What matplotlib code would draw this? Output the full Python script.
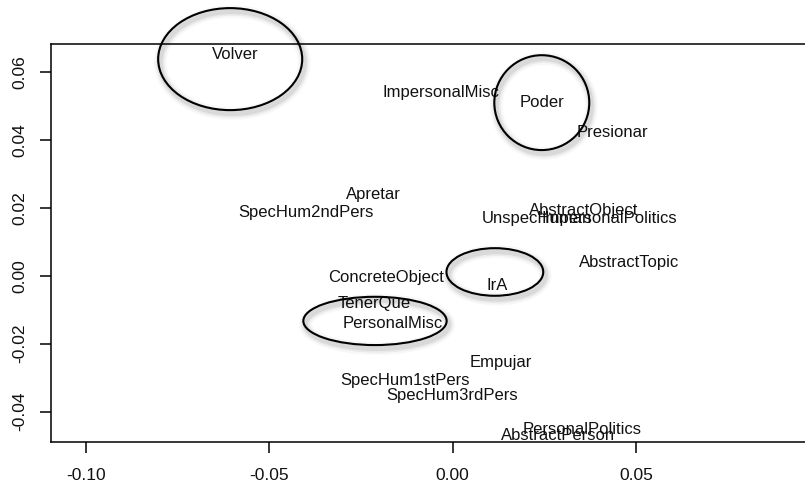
import matplotlib
matplotlib.use("Agg")
import matplotlib.pyplot as plt
from matplotlib.patches import Ellipse
import matplotlib.patheffects as pe

plt.rcParams['font.family'] = ['Liberation Sans', 'DejaVu Sans']

labels = ["Volver", "ImpersonalMisc", "Poder", "Presionar", "Apretar", "SpecHum2ndPers",
          "AbstractObject", "UnspecHuman", "ImpersonalPolitics", "AbstractTopic",
          "ConcreteObject", "IrA", "TenerQue", "PersonalMisc", "Empujar",
          "SpecHum1stPers", "SpecHum3rdPers", "PersonalPolitics", "AbstractPerson"]
xs = [-0.0594, -0.0032, 0.0243, 0.0437, -0.0215, -0.0400,
      0.0356, 0.0230, 0.0427, 0.0481,
      -0.0182, 0.0120, -0.0214, -0.0163, 0.0131,
      -0.0129, -0.0003, 0.0353, 0.0288]
ys = [0.0652, 0.0540, 0.0509, 0.0420, 0.0240, 0.0185,
      0.0193, 0.0168, 0.0168, 0.0040,
      -0.0006, -0.0028, -0.0082, -0.0140, -0.0256,
      -0.0308, -0.0352, -0.0452, -0.0470]

ell_x = [-0.0607, 0.0243, 0.0115, -0.0212]
ell_y = [0.0637, 0.0509, 0.0011, -0.0133]
ell_w = [0.0393, 0.0259, 0.0264, 0.0391]
ell_h = [0.0300, 0.0279, 0.0140, 0.0142]

xticks = [-0.10, -0.05, 0.00, 0.05]
yticks = [-0.04, -0.02, 0.00, 0.02, 0.04, 0.06]

fig = plt.figure(figsize=(8.05, 4.83), dpi=100)
ax = fig.add_axes([0.0634, 0.0859, 0.9366, 0.8224])
ax.set_xlim(-0.10957, 0.0961)
ax.set_ylim(-0.04876, 0.06806)

for lab, x, y in zip(labels, xs, ys):
    ax.text(x, y, lab, ha='center', va='center', fontsize=12, color='#111111')

shadow = [pe.Stroke(linewidth=9, foreground='#000000', alpha=0.03, offset=(1.5, -2.5)),
          pe.Stroke(linewidth=6, foreground='#000000', alpha=0.05, offset=(1.5, -2.5)),
          pe.Stroke(linewidth=3.5, foreground='#000000', alpha=0.07, offset=(1.5, -2.5)),
          pe.Normal()]
for cx, cy, w, h in zip(ell_x, ell_y, ell_w, ell_h):
    e = Ellipse((cx, cy), w, h, fill=False, edgecolor='black', linewidth=1.5,
                clip_on=False, zorder=3)
    e.set_path_effects(shadow)
    ax.add_patch(e)

ax.spines['right'].set_visible(False)
for s in ['left', 'bottom', 'top']:
    ax.spines[s].set_linewidth(1.1)
    ax.spines[s].set_color('black')

ax.set_xticks(xticks)
ax.set_xticklabels([f"{t:.2f}" for t in xticks])
ax.set_yticks(yticks)
ax.set_yticklabels([f"{t:.2f}" for t in yticks], rotation=90, va='center')
ax.tick_params(axis='both', direction='out', length=8, width=1.1, labelsize=12.5,
               labelcolor='#111111')
ax.tick_params(axis='x', pad=11)
ax.tick_params(axis='y', pad=9)

fig.savefig("out.png", dpi=100)
